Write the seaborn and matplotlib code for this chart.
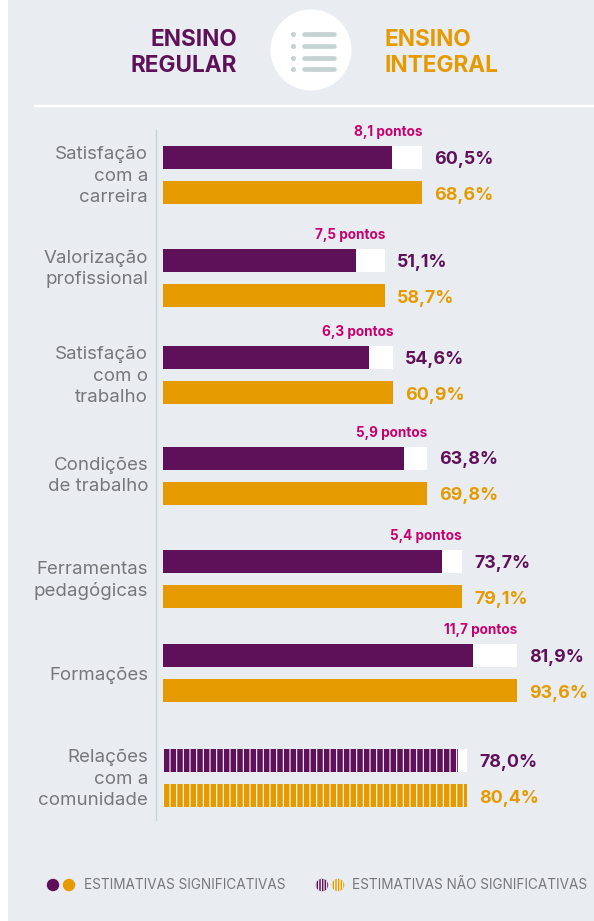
"""Ensino regular x ensino integral: indicadores de percepção docente."""

import matplotlib.pyplot as plt
import pandas as pd
import seaborn as sns
from matplotlib.patches import Circle, Rectangle

CATEGORIES = [
    "Satisfação\ncom a\ncarreira",
    "Valorização\nprofissional",
    "Satisfação\ncom o\ntrabalho",
    "Condições\nde trabalho",
    "Ferramentas\npedagógicas",
    "Formações",
    "Relações\ncom a\ncomunidade",
]
REGULAR = [60.5, 51.1, 54.6, 63.8, 73.7, 81.9, 78.0]
INTEGRAL = [68.6, 58.7, 60.9, 69.8, 79.1, 93.6, 80.4]
DIFF_LABELS = ["8,1", "7,5", "6,3", "5,9", "5,4", "11,7", None]
SIGNIFICANT = [True, True, True, True, True, True, False]
GROUPS = ["ENSINO REGULAR", "ENSINO INTEGRAL"]

PURPLE = "#5E1159"
ORANGE = "#E59A00"
BACKGROUND = "#E9EDF1"
MAGENTA = "#C8006E"
GREY_TEXT = "#77777A"
ICON = "#C3D3D1"

# layout em pixels da figura
DPI = 80
WIDTH, HEIGHT = 594, 921
ROW_CENTERS = [175, 278, 375, 475.5, 579, 673, 778]
LABEL_CENTERS = [172, 265, 372, 471.5, 576, 673, 775]
AXIS_X, ZERO_X, PX_PER_UNIT = 156, 163, 3.78
AXIS_TOP, AXIS_BOTTOM = 130, 820
FONT = "Inter"

plt.rcParams["font.family"] = [FONT, "DejaVu Sans"]
plt.rcParams["hatch.linewidth"] = 1.0

fig = plt.figure(figsize=(WIDTH / DPI, HEIGHT / DPI), dpi=DPI, facecolor="white")

# camada de fundo, em coordenadas de pixel
bg = fig.add_axes([0, 0, 1, 1], zorder=0)
bg.set_xlim(0, WIDTH)
bg.set_ylim(HEIGHT, 0)
bg.axis("off")
bg.add_patch(Rectangle((8, 0), WIDTH - 8, HEIGHT, color=BACKGROUND, lw=0))
bg.plot([34, WIDTH], [106, 106], color="white", lw=2.2, solid_capstyle="butt")

# título e ícone
bg.add_patch(Circle((311, 50), 40.5, color="white", lw=0))
for icon_y in [34, 46, 58, 69]:
    bg.plot([293], [icon_y], "o", color=ICON, ms=4.6, mew=0)
    bg.plot([304, 334], [icon_y, icon_y], color=ICON, lw=4.2, solid_capstyle="round")
title_style = dict(fontsize=20.3, fontweight="bold", linespacing=1.28, va="center")
bg.text(237, 53, "ENSINO\nREGULAR", color=PURPLE, ha="right", multialignment="right", **title_style)
bg.text(384, 53, "ENSINO\nINTEGRAL", color=ORANGE, ha="left", multialignment="left", **title_style)

# legenda
for x_pos, color, hatch in [
    (53, PURPLE, None),
    (69, ORANGE, None),
    (322, PURPLE, "|" * 5),
    (338, ORANGE, "|" * 5),
]:
    dot = Circle((x_pos, 885), 6.2, facecolor=color, edgecolor="white", lw=0, hatch=hatch)
    bg.add_patch(dot)
legend_style = dict(fontsize=12.2, color=GREY_TEXT, va="center", ha="left")
bg.text(84, 885, "ESTIMATIVAS SIGNIFICATIVAS", **legend_style)
bg.text(352, 885, "ESTIMATIVAS NÃO SIGNIFICATIVAS", **legend_style)

# barras
ax = fig.add_axes(
    [
        AXIS_X / WIDTH,
        1 - AXIS_BOTTOM / HEIGHT,
        1 - AXIS_X / WIDTH,
        (AXIS_BOTTOM - AXIS_TOP) / HEIGHT,
    ],
    zorder=1,
)
ax.patch.set_alpha(0)

df = pd.DataFrame({"row": ROW_CENTERS, GROUPS[0]: REGULAR, GROUPS[1]: INTEGRAL})
long_df = df.melt(id_vars="row", var_name="grupo", value_name="valor")
back_df = long_df.assign(valor=INTEGRAL * 2)

bar_kwargs = dict(
    y="row",
    x="valor",
    hue="grupo",
    hue_order=GROUPS,
    orient="h",
    native_scale=True,
    width=70 / 94,
    gap=12 / 35,
    errorbar=None,
    legend=False,
    saturation=1,
    ax=ax,
)
sns.barplot(data=back_df, palette=["white", "white"], linewidth=0, **bar_kwargs)
n_back = len(ax.containers)
sns.barplot(data=long_df, palette=[PURPLE, ORANGE], linewidth=0, **bar_kwargs)

# barras não significativas ficam listradas
for container in ax.containers[n_back:]:
    for patch, significant in zip(container.patches, SIGNIFICANT):
        if not significant:
            patch.set_edgecolor("white")
            patch.set_hatch("||")

ax.set_xlim(-(ZERO_X - AXIS_X) / PX_PER_UNIT, (WIDTH - ZERO_X) / PX_PER_UNIT)
ax.set_ylim(AXIS_BOTTOM, AXIS_TOP)
ax.set_xlabel("")
ax.set_ylabel("")
ax.set_xticks([])
ax.set_yticks(LABEL_CENTERS)
ax.set_yticklabels(
    CATEGORIES,
    fontsize=16.8,
    color=GREY_TEXT,
    linespacing=1.32,
    multialignment="right",
)
ax.tick_params(axis="y", length=0, pad=7)
sns.despine(ax=ax, left=False, bottom=True)
ax.spines["left"].set_color(ICON)
ax.spines["left"].set_linewidth(1.2)

# rótulos de valor e diferença
value_style = dict(fontsize=16, fontweight="bold", va="center", ha="left")
for center, reg, integ, diff in zip(ROW_CENTERS, REGULAR, INTEGRAL, DIFF_LABELS):
    label_x = max(reg, integ) + 12 / PX_PER_UNIT
    ax.text(label_x, center - 15.5, f"{reg:.1f}%".replace(".", ","), color=PURPLE, **value_style)
    ax.text(label_x, center + 20.5, f"{integ:.1f}%".replace(".", ","), color=ORANGE, **value_style)
    if diff is not None:
        ax.text(
            integ,
            center - 43,
            f"{diff} pontos",
            color=MAGENTA,
            fontsize=12.2,
            fontweight="bold",
            ha="right",
            va="center",
        )

fig.savefig("out.png", dpi=DPI, facecolor=fig.get_facecolor())
